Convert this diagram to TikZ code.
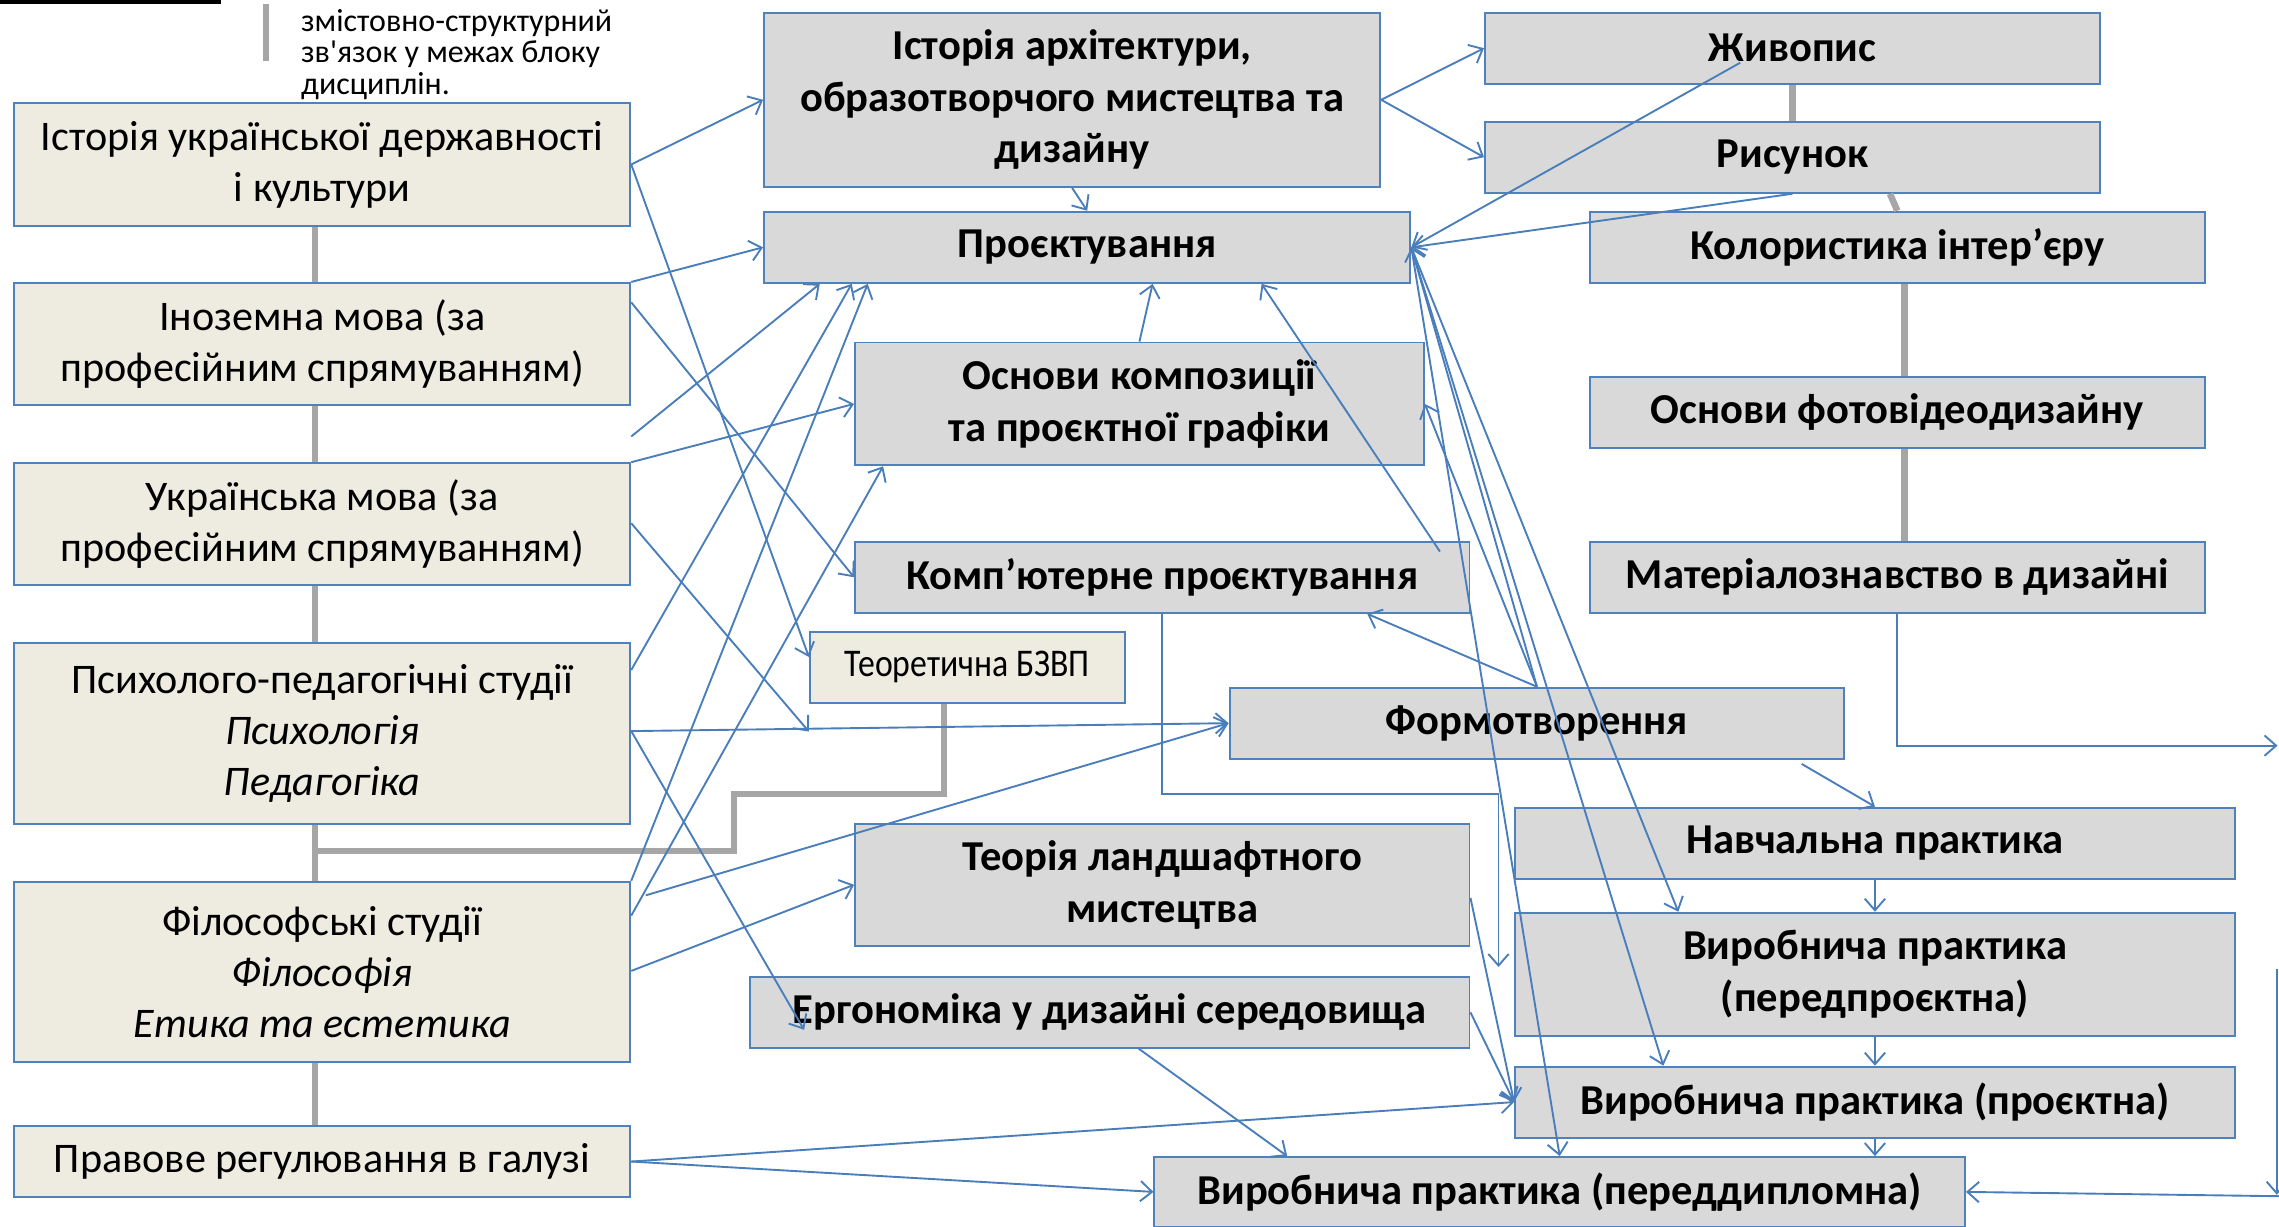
\documentclass[tikz,border=0pt]{standalone}
\usepackage{graphicx}
\usepackage{fontspec}
\setmainfont{Carlito}
\newfontfamily\legendfont{Carlito}
\usetikzlibrary{arrows.meta}

\definecolor{boxblue}{HTML}{4F81BD}
\definecolor{linkblue}{HTML}{4A7EBB}
\definecolor{greyfill}{HTML}{D9D9D9}
\definecolor{tanfill}{HTML}{EEECE1}
\definecolor{tiegrey}{HTML}{A6A6A6}

\newcommand{\regtext}{\fontsize{29}{35}\selectfont}
\newcommand{\boldtext}{\fontsize{29.3}{35.5}\selectfont\bfseries}
\newcommand{\legendtext}{\legendfont\fontsize{22}{21.8}\selectfont}

\tikzset{
  subj/.style={draw=boxblue, line width=1.3pt, inner sep=0pt, anchor=north west, align=center},
  basebox/.style={subj, fill=tanfill, font=\regtext},
  corebox/.style={subj, fill=greyfill, font=\boldtext},
  link/.style={draw=linkblue, line width=1.3pt, -{Straight Barb[length=8pt,width=14pt]}},
  tie/.style={draw=tiegrey, line width=4.5pt},
}

\begin{document}
\begin{tikzpicture}[x=1pt, y=-1pt]
  \useasboundingbox (0,0) rectangle (1568,844);

  % legend
  \fill[black] (0,0) rectangle (152,2.5);
  \draw[tie] (183,3) -- (183,42);
  \node[anchor=north west, align=left, font=\legendtext, inner sep=0pt] (legend) at (207,6)
    {змістовно-структурний\\зв'язок у межах блоку\\дисциплін.};

  % left block
  \node[basebox, minimum width=424, minimum height=85] (istukr) at (9,70) {Історія української державності\\і культури};
  \node[basebox, minimum width=424, minimum height=84] (inozem) at (9,194) {Іноземна мова (за\\професійним спрямуванням)};
  \node[basebox, minimum width=424, minimum height=84] (ukrmova) at (9,318) {Українська мова (за\\професійним спрямуванням)};
  \node[basebox, minimum width=424, minimum height=124] (psych) at (9,442) {Психолого-педагогічні студії\\\textit{Психологія}\\\textit{Педагогіка}};
  \node[basebox, minimum width=424, minimum height=124] (philo) at (9,606) {Філософські студії\\\textit{Філософія}\\\textit{Етика та естетика}};
  \node[basebox, minimum width=424, minimum height=49] (pravo) at (9,774) {Правове регулювання в галузі};

  % middle column
  \node[corebox, minimum width=424, minimum height=120] (istarch) at (525,8) {Історія архітектури,\\образотворчого мистецтва та\\дизайну};
  \node[corebox, minimum width=444.7, minimum height=49] (proekt) at (525,145) {Проєктування};
  \node[corebox, minimum width=391.4, minimum height=84.5] (oskomp) at (587.6,235) {Основи композиції\\та проєктної графіки};
  \node[corebox, minimum width=422.8, minimum height=49] (kompproekt) at (587.6,372) {Комп’ютерне проєктування};
  \node[basebox, minimum width=216.8, minimum height=49, font=\fontsize{27}{32}\selectfont] (teorbzvp) at (556.5,434) {\scalebox{0.86}[1]{Теоретична БЗВП}};
  \node[corebox, minimum width=423, minimum height=48.8] (formotv) at (845.3,472.5) {Формотворення};
  \node[corebox, minimum width=422.8, minimum height=84.2] (landsh) at (587.6,566) {Теорія ландшафтного\\мистецтва};
  \node[corebox, minimum width=495.2, minimum height=48.7] (ergo) at (515.2,671.5) {Ергономіка у дизайні середовища};
  \node[corebox, minimum width=557.7, minimum height=48] (peredypl) at (793.6,795.4) {Виробнича практика (переддипломна)};

  % right column
  \node[corebox, minimum width=423.3, minimum height=49] (zhyvopys) at (1021,8) {Живопис};
  \node[corebox, minimum width=423.3, minimum height=49] (rysunok) at (1021,83) {Рисунок};
  \node[corebox, minimum width=423.5, minimum height=49] (kolor) at (1093,145) {Колористика інтер’єру};
  \node[corebox, minimum width=423.5, minimum height=48.8] (fotovideo) at (1093,258.5) {Основи фотовідеодизайну};
  \node[corebox, minimum width=423.5, minimum height=49] (material) at (1093,372) {Матеріалознавство в дизайні};
  \node[corebox, minimum width=495.3, minimum height=49.3] (navch) at (1041.7,555) {Навчальна практика};
  \node[corebox, minimum width=495.3, minimum height=84.7] (peredproekt) at (1041.7,627.3) {Виробнича практика\\(передпроєктна)};
  \node[corebox, minimum width=495.3, minimum height=48.8] (proektna) at (1041.7,733.2) {Виробнича практика (проєктна)};

  % grey ties inside a block
  \foreach \a/\b in {istukr/inozem, inozem/ukrmova, ukrmova/psych, psych/philo, philo/pravo}
    \draw[tie] ([xshift=-5]\a.south) -- ([xshift=-5]\b.north);
  \coordinate (leftspine) at ([xshift=-5]psych.south);
  \coordinate (tiebend) at (505,585.5);
  \draw[tie, line join=miter] ([xshift=-16]teorbzvp.south) -- ++(0,62) -| (tiebend) -- (tiebend -| leftspine);
  \draw[tie] (zhyvopys.south) -- (rysunok.north);
  \draw[tie] ([xshift=67]rysunok.south) -- (kolor.north);
  \draw[tie] ([xshift=5]kolor.south) -- ([xshift=5]fotovideo.north);
  \draw[tie] ([xshift=5]fotovideo.south) -- ([xshift=5]material.north);

  % links from the left block
  \draw[link] (istukr.east) -- (istarch.west);
  \draw[link] (istukr.east) -- ([yshift=-18]teorbzvp.north west);
  \draw[link] (inozem.north east) -- (proekt.west);
  \draw[link] ([yshift=-14]inozem.north east) -- (kompproekt.west);
  \draw[link] ([yshift=-21]inozem.south east) -- ([xshift=39]proekt.south west);
  \draw[link] (ukrmova.north east) -- (oskomp.west);
  \draw[link] ([yshift=-42]ukrmova.north east) -- ([yshift=-19]teorbzvp.south west);
  \draw[link] ([yshift=-19]psych.north east) -- ([xshift=61]proekt.south west);
  \draw[link] ([yshift=-61]psych.north east) -- (formotv.west);
  \draw[link] ([yshift=-61]psych.north east) -- ([xshift=38,yshift=-37]ergo.north west);
  \draw[link] (philo.north east) -- ([xshift=72]proekt.south west);
  \draw[link] ([yshift=-24]philo.north east) -- ([xshift=20]oskomp.south west);
  \draw[link] ([xshift=10,yshift=-10]philo.north east) -- (formotv.west);
  \draw[link] ([yshift=-62]philo.north east) -- (landsh.west);
  \draw[link] (pravo.east) -- (proektna.west);
  \draw[link] (pravo.east) -- (peredypl.west);

  % links in the middle
  \draw[link] (istarch.south) -- (proekt.north);
  \draw[link] (istarch.east) -- (zhyvopys.west);
  \draw[link] (istarch.east) -- (rysunok.west);
  \draw[link] ([xshift=-36,yshift=-10]zhyvopys.center) -- (proekt.east);
  \draw[link] (rysunok.south) -- (proekt.east);
  \draw[link] (oskomp.north) -- ([xshift=45]proekt.south);
  \draw[link] ([xshift=-21,yshift=-7.5]kompproekt.north east) -- ([xshift=120]proekt.south);
  \draw[link] (formotv.north) -- ([xshift=141]kompproekt.south);
  \draw[link] (formotv.north) -- (oskomp.east);
  \draw[link] (formotv.north) -- (proekt.east);
  \coordinate (kpend) at ([xshift=-10.7,yshift=-38]peredproekt.north west);
  \draw[link] (kompproekt.south) -- ++(0,124) -| (kpend);

  % practice chain
  \draw[link] (proekt.east) -- ([xshift=113]peredproekt.north west);
  \draw[link] (proekt.east) -- ([xshift=102.7]proektna.north west);
  \draw[link] (proekt.east) -- (peredypl.north);
  \draw[link] ([xshift=-30,yshift=-3]formotv.south east) -- (navch.north);
  \draw[link] (navch.south) -- (peredproekt.north);
  \draw[link] (peredproekt.south) -- (proektna.north);
  \draw[link] (proektna.south) -- (proektna.south |- peredypl.north);
  \draw[link] ([yshift=-9]landsh.east) -- (proektna.west);
  \draw[link] (ergo.east) -- (proektna.west);
  \draw[link] ([xshift=20]ergo.south) -- ([xshift=92]peredypl.north west);

  % off the right edge
  \coordinate (rightout) at (1567,513);
  \draw[link] (material.south) |- (rightout);
  \coordinate (edgetop) at (1566.5,667);
  \coordinate (edgefoot) at (1566.5,822);
  \draw[link] (edgetop) -- (edgefoot);
  \coordinate (edgein) at (1568,823);
  \draw[link] (edgein) -- (peredypl.east);
\end{tikzpicture}
\end{document}
